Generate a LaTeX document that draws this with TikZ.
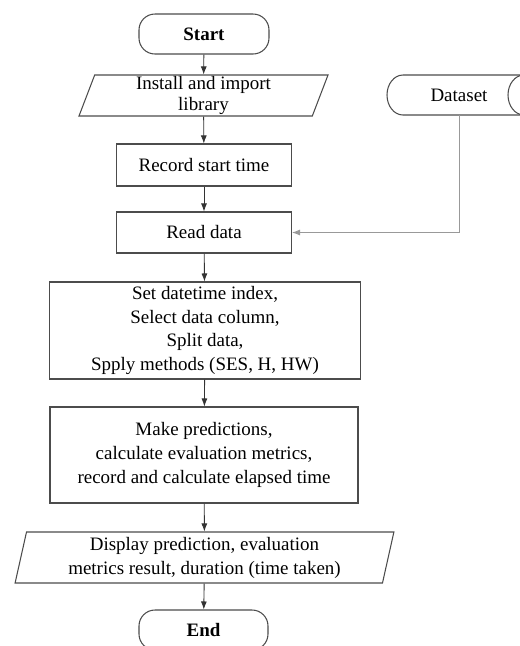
\documentclass[tikz,border=0pt]{standalone}
\usepackage{fontspec}
\setmainfont{Liberation Serif}
\usetikzlibrary{shapes.geometric,arrows.meta}

\begin{document}
\begin{tikzpicture}
	\tikzstyle{terminal}=[rounded corners=0.32cm,draw=black!70,line width=0.6pt,minimum width=2.6cm,minimum height=0.8cm,font=\fontsize{10.8}{13.6}\selectfont\bfseries]
	\tikzstyle{process}=[rectangle,draw=black!70,line width=0.6pt,align=center,inner sep=0pt,font=\fontsize{10.8}{13.6}\selectfont]
	\tikzstyle{io}=[trapezium,trapezium stretches=true,draw=black!70,line width=0.6pt,align=center,inner sep=0pt,font=\fontsize{10.8}{13.6}\selectfont]
	\tikzstyle{store}=[rectangle,inner sep=0pt,minimum height=0.8cm,font=\fontsize{10.8}{13.6}\selectfont]
	\tikzstyle{flow}=[draw,line width=0.5pt,black!80,-{Latex[length=1.6mm,width=1.2mm]}]
	\useasboundingbox (0,0) rectangle (10.4,-12.92);
	\begin{scope}
		\node [terminal] (start) at (4.08,-0.68) {Start};
		\node [io,trapezium left angle=76,trapezium right angle=104,minimum width=5.02cm,minimum height=0.82cm,font=\fontsize{10.8}{12.4}\selectfont] (inst) at (4.07,-1.91) {Install and import\\library};
		\node [process,minimum width=3.5cm,minimum height=0.84cm] (rec) at (4.08,-3.30) {Record start time};
		\node [process,minimum width=3.5cm,minimum height=0.82cm] (read) at (4.08,-4.65) {Read data};
		\node [process,minimum width=6.22cm,minimum height=1.94cm] (prep) at (4.10,-6.61) {Set datetime index,\\Select data column,\\Split data,\\Spply methods (SES, H, HW)};
		\node [process,minimum width=6.16cm,minimum height=1.92cm] (pred) at (4.08,-9.10) {Make predictions,\\calculate evaluation metrics,\\record and calculate elapsed time};
		\node [io,trapezium left angle=78,trapezium right angle=102,minimum width=7.58cm,minimum height=1.02cm] (disp) at (4.09,-11.15) {Display prediction, evaluation\\metrics result, duration (time taken)};
		\node [terminal,minimum width=2.58cm] (end) at (4.07,-12.60) {End};
		\node [store] (data) at (9.18,-1.90) {Dataset};
		% stored data outline, runs off the right edge
		\draw[black!70,line width=0.6pt] (10.48,-1.50) -- (8.06,-1.50) arc[start angle=90,end angle=270,x radius=0.32,y radius=0.40] -- (10.48,-2.30);
		\draw[black!70,line width=0.6pt] (10.48,-1.90) ellipse[x radius=0.32,y radius=0.40];
		\path[flow] (start) edge (inst);
		\path[flow] (inst) edge (rec);
		\path[flow] (rec) edge (read);
		\path[flow] (read) edge (prep);
		\path[flow] (prep) edge (pred);
		\path[flow] (pred) edge (disp);
		\path[flow] (disp) edge (end);
		\draw[flow,black!40] (data.south) |- (read.east);
	\end{scope}
\end{tikzpicture}
\end{document}
